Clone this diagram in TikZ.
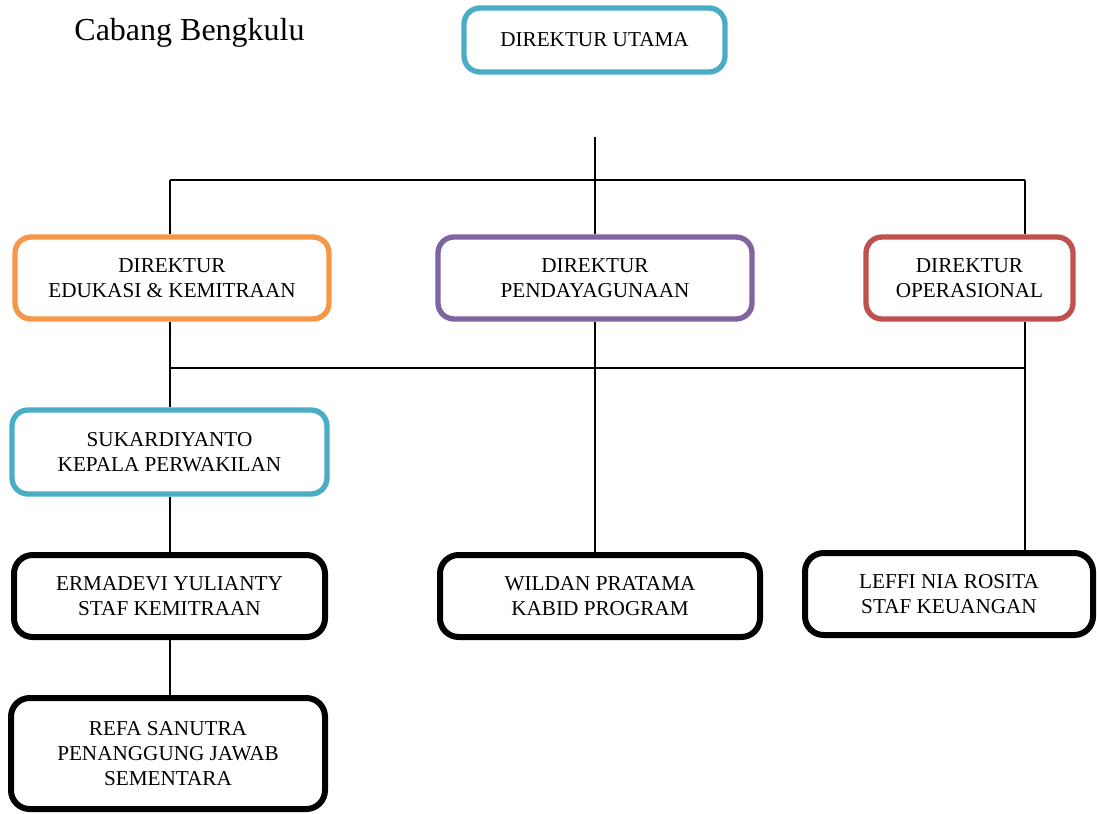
\documentclass[tikz,border=0pt]{standalone}
\usepackage{fontspec}
\setmainfont{Liberation Serif}
\definecolor{ccyan}{HTML}{4BACC6}
\definecolor{corange}{HTML}{F79646}
\definecolor{cpurple}{HTML}{8064A2}
\definecolor{cred}{HTML}{C0504D}
\tikzset{
  orgbox/.style={draw, rounded corners=12pt, line width=4pt, fill=white,
    align=center, inner sep=0pt,
    font=\fontsize{15.9}{18.6}\selectfont},
  blackbox/.style={orgbox, draw=black, line width=4.5pt, rounded corners=14pt},
  conn/.style={draw=black, line width=1.4pt},
}
\begin{document}
\begin{tikzpicture}[x=0.75pt,y=-0.75pt]
\useasboundingbox (0,0) rectangle (1097,814);
\node (title) at (189.5,33) {\fontsize{24}{28}\selectfont Cabang Bengkulu};
\node[orgbox, draw=ccyan, minimum width=261*0.75pt, minimum height=64*0.75pt] (utama) at (594.5,40) {DIREKTUR UTAMA};
\node[orgbox, draw=corange, minimum width=314*0.75pt, minimum height=82*0.75pt] (edu) at (172,278) {DIREKTUR\\EDUKASI \& KEMITRAAN};
\node[orgbox, draw=cpurple, minimum width=314*0.75pt, minimum height=82*0.75pt] (pend) at (595,278) {DIREKTUR\\PENDAYAGUNAAN};
\node[orgbox, draw=cred, minimum width=207*0.75pt, minimum height=82*0.75pt] (ops) at (969.5,278) {DIREKTUR\\OPERASIONAL};
\node[orgbox, draw=ccyan, minimum width=315*0.75pt, minimum height=84*0.75pt] (suk) at (169.5,452) {SUKARDIYANTO\\KEPALA PERWAKILAN};
\node[blackbox, minimum width=311*0.75pt, minimum height=82*0.75pt] (erm) at (169.5,596) {ERMADEVI YULIANTY\\STAF KEMITRAAN};
\node[blackbox, minimum width=320*0.75pt, minimum height=82*0.75pt] (wil) at (600,596) {WILDAN PRATAMA\\KABID PROGRAM};
\node[blackbox, minimum width=288*0.75pt, minimum height=82*0.75pt] (lef) at (949,594) {LEFFI NIA ROSITA\\STAF KEUANGAN};
\node[blackbox, minimum width=314*0.75pt, minimum height=111*0.75pt] (ref) at (168,753.5) {REFA SANUTRA\\PENANGGUNG JAWAB\\SEMENTARA};
\coordinate (top) at (595,137);
\coordinate (hl) at (170,180);
\coordinate (hr) at (1025,180);
\coordinate (ml) at (170,368);
\coordinate (mr) at (1025,368);
\draw[conn] (top) -- (top |- pend.north);
\draw[conn] (hl) -- (hr);
\draw[conn] (hl) -- (hl |- edu.north);
\draw[conn] (hr) -- (hr |- ops.north);
\draw[conn] (hl |- edu.south) -- (hl |- suk.north);
\draw[conn] (ml) -- (mr);
\draw[conn] (top |- pend.south) -- (top |- wil.north);
\draw[conn] (hr |- ops.south) -- (hr |- lef.north);
\draw[conn] (hl |- suk.south) -- (hl |- erm.north);
\draw[conn] (hl |- erm.south) -- (hl |- ref.north);
\end{tikzpicture}
\end{document}
